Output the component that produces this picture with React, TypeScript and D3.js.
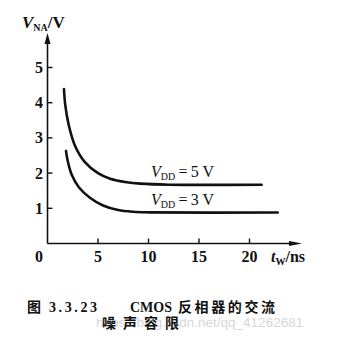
import React from "react";
import * as d3 from "d3";

const xTicks = [0, 5, 10, 15, 20];
const yTicks = [1, 2, 3, 4, 5];
const series5V: [number, number][] = [
  [1.63, 4.39], [1.76, 3.93], [2.1, 3.37], [2.69, 2.8], [3.68, 2.32], [5.0, 2.0],
  [6.2, 1.84], [7.84, 1.74], [9.2, 1.7], [12, 1.67], [21.2, 1.67],
];
const series3V: [number, number][] = [
  [1.83, 2.63], [2.0, 2.35], [2.4, 1.95], [3.1, 1.6], [4.2, 1.3], [5.5, 1.08],
  [7, 0.95], [8.5, 0.9], [10, 0.885], [22.8, 0.88],
];
const captionFig = "图";
const captionNum = "3.3.23";
const captionLatin = "CMOS";
const captionCjk = "反相器的交流";
const captionLine2 = "噪声容限";
const watermark = "https://blog.csdn.net/qq_41262681";

export default function App() {
  const x = d3.scaleLinear().domain([0, 20]).range([47.5, 249.5]);
  const y = d3.scaleLinear().domain([0, 5]).range([243.5, 67.5]);
  const line = d3
    .line<[number, number]>()
    .x((d) => x(d[0]))
    .y((d) => y(d[1]))
    .curve(d3.curveCatmullRom.alpha(0.5));
  const serif = "'Liberation Serif', 'DejaVu Serif', serif";
  const cjk = "'Noto Sans CJK SC', serif";
  const ink = "#111";
  return (
    <svg
      width={354}
      height={352}
      style={{ position: "absolute", left: 0, top: 0, background: "#fff" }}
      fontFamily={serif}
    >
      <rect width={354} height={352} fill="#fff" />
      {/* axes */}
      <line x1={x(0)} y1={y(0)} x2={x(0)} y2={40} stroke={ink} strokeWidth={1.6} />
      <path d={`M${x(0)},33 L${x(0) - 3},44 L${x(0) + 3},44 Z`} fill={ink} />
      <line x1={x(0)} y1={y(0)} x2={295} y2={y(0)} stroke={ink} strokeWidth={1.6} />
      <path d={`M302,${y(0)} L289,${y(0) - 2.5} L289,${y(0) + 2.5} Z`} fill={ink} />
      {yTicks.map((t) => (
        <g key={"y" + t}>
          <line x1={x(0)} x2={x(0) + 5} y1={y(t)} y2={y(t)} stroke={ink} strokeWidth={1.4} />
          <text x={43} y={y(t) + 5.5} textAnchor="end" fontSize={16} fontWeight="bold" fill={ink}>
            {t}
          </text>
        </g>
      ))}
      {xTicks.map((t) => (
        <g key={"x" + t}>
          {t > 0 && (
            <line x1={x(t)} x2={x(t)} y1={y(0)} y2={y(0) - 5} stroke={ink} strokeWidth={1.4} />
          )}
          <text
            x={t === 0 ? 39 : x(t)}
            y={262}
            textAnchor="middle"
            fontSize={16}
            fontWeight="bold"
            fill={ink}
          >
            {t}
          </text>
        </g>
      ))}
      {/* axis labels */}
      <text x={22} y={28} fontSize={17} fill={ink} fontWeight="bold">
        <tspan fontStyle="italic">V</tspan>
        <tspan fontSize={10} dy={3}>NA</tspan>
        <tspan dy={-3}>/V</tspan>
      </text>
      <text x={271} y={262} fontSize={16} fill={ink} fontWeight="bold">
        <tspan fontStyle="italic">t</tspan>
        <tspan fontSize={10} dy={3}>W</tspan>
        <tspan dy={-3}>/ns</tspan>
      </text>
      {/* curves */}
      <path d={line(series5V) || ""} fill="none" stroke={ink} strokeWidth={2.6} strokeLinecap="round" />
      <path d={line(series3V) || ""} fill="none" stroke={ink} strokeWidth={2.6} strokeLinecap="round" />
      <text x={151} y={177} fontSize={16} fill={ink}>
        <tspan fontStyle="italic">V</tspan>
        <tspan fontSize={10} dy={3}>DD</tspan>
        <tspan dy={-3}>{"\u2009=\u20095 V"}</tspan>
      </text>
      <text x={151} y={205} fontSize={16} fill={ink}>
        <tspan fontStyle="italic">V</tspan>
        <tspan fontSize={10} dy={3}>DD</tspan>
        <tspan dy={-3}>{"\u2009=\u20093 V"}</tspan>
      </text>
      {/* caption */}
      <text
        x={96}
        y={327}
        fontSize={13.5}
        fill="#d6d6d6"
        fontFamily="'Liberation Sans', Arial, sans-serif"
      >
        {watermark}
      </text>
      <text x={27} y={312} fontSize={14} fontWeight="bold" fill={ink} fontFamily={cjk}>
        {captionFig}
      </text>
      <text x={49} y={312} fontSize={14} fontWeight="bold" fill={ink} letterSpacing={2.6}>
        {captionNum}
      </text>
      <text x={130} y={312} fontSize={14} fontWeight="bold" fill={ink}>
        {captionLatin}
      </text>
      <text
        x={178}
        y={312}
        fontSize={14}
        fontWeight="bold"
        fill={ink}
        letterSpacing={2.6}
        fontFamily={cjk}
      >
        {captionCjk}
      </text>
      <text
        x={102}
        y={328}
        fontSize={14}
        fontWeight="bold"
        fill={ink}
        letterSpacing={7}
        fontFamily={cjk}
      >
        {captionLine2}
      </text>
    </svg>
  );
}
